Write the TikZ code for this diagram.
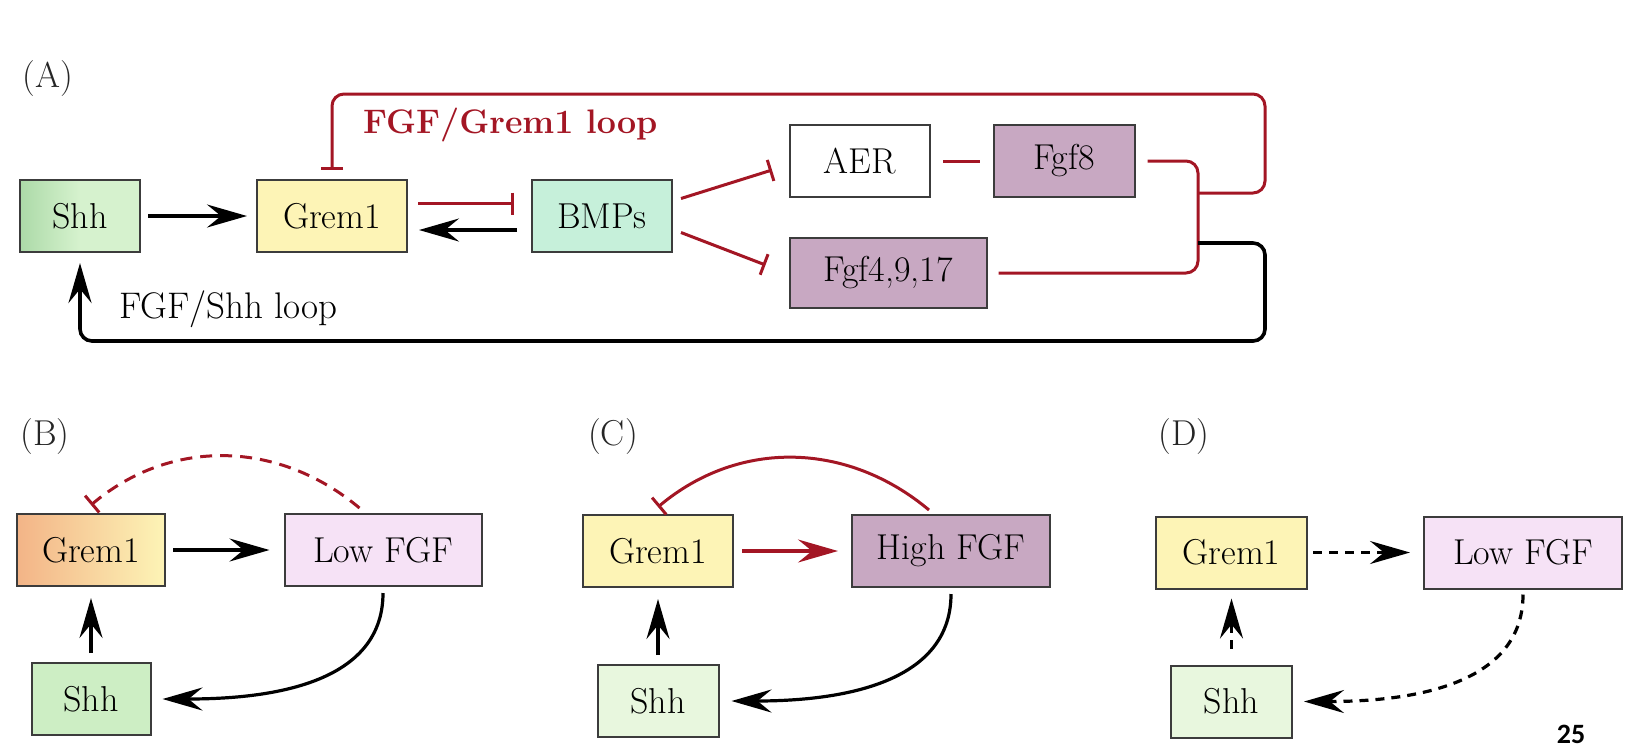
\documentclass[tikz,border=0pt]{standalone}
\usepackage{fontspec}
\newfontfamily\pagenumfont{Carlito}
\usetikzlibrary{arrows.meta}
\definecolor{loopred}{RGB}{163,22,36}
\definecolor{shhgreen}{RGB}{205,238,196}
\definecolor{shhdark}{RGB}{172,218,168}
\definecolor{shhlight}{RGB}{214,242,206}
\definecolor{shhpale}{RGB}{232,247,222}
\definecolor{gremyellow}{RGB}{253,244,182}
\definecolor{gremorange}{RGB}{243,180,135}
\definecolor{bmpmint}{RGB}{198,240,218}
\definecolor{fgfmauve}{RGB}{200,168,194}
\definecolor{fgfpale}{RGB}{246,226,246}
\definecolor{boxline}{RGB}{60,60,60}
\tikzstyle{gene}=[rectangle,draw=boxline,line width=1pt,inner sep=0pt,minimum height=36pt,font=\fontsize{18}{20}\selectfont]
\tikzstyle{act}=[draw,line width=1.6pt,-{Stealth[length=20pt,width=11.5pt,inset=7pt]}]
\tikzstyle{inh}=[draw,color=loopred,line width=1.5pt,-{Bar[width=11pt]}]
\tikzstyle{panel}=[font=\fontsize{18}{20}\selectfont,text=black!85]
\begin{document}
\begin{tikzpicture}[x=0.5pt,y=-0.5pt]
\useasboundingbox (0,0) rectangle (1642,752);
% (A)
\node[panel] (labA) at (48,79) {(A)};
\path (80,216) node[gene,minimum width=60pt,left color=shhdark,right color=shhlight,middle color=shhlight] (shhA) {Shh}
    ++ (252,0) node[gene,minimum width=75pt,fill=gremyellow] (gremA) {Grem1}
    ++ (270,0) node[gene,minimum width=70pt,fill=bmpmint] (bmps) {BMPs}
    ++ (258,-55) node[gene,minimum width=70pt,fill=white] (aer) {AER}
    ++ (204,0) node[gene,minimum width=70.5pt,fill=fgfmauve] (fgf8) {Fgf8}
    (aer) ++ (28,112) node[gene,minimum width=98.5pt,minimum height=35pt,fill=fgfmauve] (fgf4) {Fgf4,9,17}
    ;
\draw[act,shorten <=3.5pt,shorten >=4.5pt] (shhA) -- (gremA);
\draw[inh,shorten <=5pt,shorten >=8.5pt] ([yshift=6.25pt]gremA.east) -- ([yshift=6.25pt]bmps.west);
\draw[act,shorten <=7pt,shorten >=5.5pt] ([yshift=-7pt]bmps.west) -- ([yshift=-7pt]gremA.east);
\draw[inh] ([shift={(8,-17.5)}]bmps.east) -- ([shift={(-17,9)}]aer.west);
\draw[inh] ([shift={(8,16.5)}]bmps.east) -- ([shift={(-23,-8)}]fgf4.west);
\draw[color=loopred,line width=1.5pt,shorten <=6pt,shorten >=6.5pt] (aer) -- (fgf8);
\coordinate (hub) at (1198,193);
\coordinate (hubblk) at (1198,243);
\coordinate (redturn) at (1265,94);
\coordinate (blkturn) at (1265,341);
\draw[color=loopred,line width=1.5pt,rounded corners=6pt] ([xshift=6pt]fgf8.east) -| (hub) |- ([xshift=5.5pt]fgf4.east);
\draw[inh,rounded corners=6pt] (hub) -| (redturn) -| ([yshift=4.5pt]gremA.north);
\draw[act,line width=1.8pt,rounded corners=6pt] (hubblk) -| (blkturn) -| ([yshift=-5pt]shhA.south);
\node[anchor=base west,text=loopred,font=\fontsize{17}{20}\selectfont\bfseries] (gremloop) at (356,133) {FGF/Grem1 loop};
\node[anchor=base west,font=\fontsize{18.5}{20}\selectfont] (shhloop) at (112,318) {FGF/Shh loop};
% (B)
\node[panel] (labB) at (45,436) {(B)};
\path (91,550) node[gene,minimum width=74pt,left color=gremorange,right color=gremyellow] (gremB) {Grem1}
    ++ (292,0) node[gene,minimum width=98.5pt,fill=fgfpale] (lowB) {Low FGF}
    (gremB) ++ (0,149) node[gene,minimum width=59.5pt,fill=shhgreen] (shhB) {Shh}
    ;
\draw[act,shorten <=3.5pt,shorten >=7pt] (gremB) -- (lowB);
\draw[act,shorten <=4.5pt,shorten >=5.5pt] (shhB) -- (gremB);
\draw[act] ([yshift=-3pt]lowB.south) to[out=-90,in=0] ([xshift=5.5pt]shhB.east);
\draw[inh,dash pattern=on 6pt off 4pt] ([shift={(-23.5,-5)}]lowB.north) to[out=140,in=40] ([yshift=4pt]gremB.north);
% (C)
\node[panel] (labC) at (613,436) {(C)};
\path (658,551) node[gene,minimum width=75pt,fill=gremyellow] (gremC) {Grem1}
    ++ (293,0) node[gene,minimum width=99pt,fill=fgfmauve] (highC) {High FGF}
    (gremC) ++ (0,150) node[gene,minimum width=60.5pt,fill=shhpale] (shhC) {Shh}
    ;
\draw[act,color=loopred,shorten <=4pt,shorten >=6.5pt] (gremC) -- (highC);
\draw[act,shorten <=4.5pt,shorten >=5.5pt] (shhC) -- (gremC);
\draw[act] ([yshift=-3pt]highC.south) to[out=-90,in=0] ([xshift=6pt]shhC.east);
\draw[inh] ([shift={(-22,-4)}]highC.north) to[out=140,in=40] ([yshift=3.5pt]gremC.north);
% (D)
\node[panel] (labD) at (1184,436) {(D)};
\path (1231.5,552.5) node[gene,minimum width=75.5pt,fill=gremyellow] (gremD) {Grem1}
    ++ (291.5,0) node[gene,minimum width=99pt,fill=fgfpale] (lowD) {Low FGF}
    (gremD) ++ (0,149) node[gene,minimum width=60.5pt,fill=shhpale] (shhD) {Shh}
    ;
\draw[act,dash pattern=on 4.5pt off 3.5pt,shorten <=2.5pt,shorten >=6.5pt] (gremD) -- (lowD);
\draw[act,dash pattern=on 4.5pt off 3.5pt,shorten <=8pt,shorten >=4.5pt] (shhD) -- (gremD);
\draw[act,dash pattern=on 4.5pt off 3.5pt] ([yshift=-2.5pt]lowD.south) to[out=-90,in=0] ([xshift=5.5pt]shhD.east);
\node[font=\pagenumfont\bfseries\fontsize{14}{16}\selectfont] (pageno) at (1571,734) {25};
\end{tikzpicture}
\end{document}
